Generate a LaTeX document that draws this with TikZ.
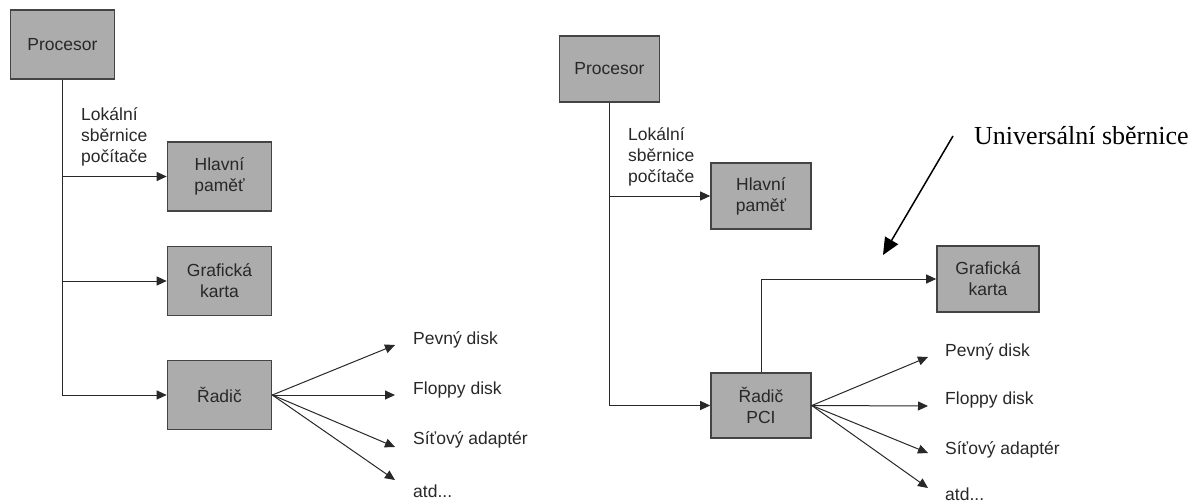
\documentclass[tikz,border=0pt]{standalone}
\usepackage{fontspec}
\setmainfont{Liberation Serif}
\setsansfont{Liberation Sans}
\usetikzlibrary{arrows.meta}
\definecolor{boxgray}{RGB}{172,172,172}
\definecolor{boxedge}{RGB}{68,68,68}
\definecolor{wiregray}{RGB}{40,40,40}

\begin{document}
\begin{tikzpicture}[x=1pt,y=-1pt]

%
% Styles
%
\tikzstyle{unit} = [rectangle,draw=boxedge,fill=boxgray,line width=1.6pt,
  minimum width=104pt,minimum height=69pt,align=center,text=wiregray,
  font=\sffamily\fontsize{17.5}{21}\selectfont]
\tikzstyle{unitsmall} = [unit,minimum width=100pt,minimum height=66pt]
\tikzstyle{lbl} = [inner sep=0pt,anchor=west,align=left,text=wiregray,
  font=\sffamily\fontsize{17.5}{21}\selectfont]
\tikzstyle{wire} = [draw=wiregray,line width=1pt,-{Triangle[length=10pt,width=9pt]}]
\tikzstyle{pointer} = [draw=black,line width=1.5pt,-{Triangle[length=17pt,width=15pt]}]

\useasboundingbox (0,0) rectangle (1203,503);

% left: everything on the local bus
\node[unit] (cpu) at (62.5,44.5) {Procesor};
\node[unit] (mem) at (219.5,176.5) {Hlavní\\paměť};
\node[unit] (gpu) at (219.5,281) {Grafická\\karta};
\node[unit] (ctl) at (219.5,395) {Řadič};
\node[lbl] (bus) at (81,137) {Lokální\\sběrnice\\počítače};

\draw[wire] (cpu) |- (ctl);
\draw[wire] (cpu.south |- mem) -- (mem);
\draw[wire] (cpu.south |- gpu) -- (gpu);

\coordinate (hdd) at (395,345);
\coordinate (fdd) at (395,395);
\coordinate (nic) at (395,447);
\coordinate (etc) at (395,480);
\node[lbl] (hddtxt) at (413,340) {Pevný disk};
\node[lbl] (fddtxt) at (413,390) {Floppy disk};
\node[lbl] (nictxt) at (413,440) {Síťový adaptér};
\node[lbl] (etctxt) at (413,491) {atd...};
\draw[wire] (ctl.east) -- (hdd);
\draw[wire] (ctl.east) -- (fdd);
\draw[wire] (ctl.east) -- (nic);
\draw[wire] (ctl.east) -- (etc);

% right: PCI bridge in between
\node[unitsmall] (cpuB) at (609.5,69) {Procesor};
\node[unitsmall] (memB) at (761,196) {Hlavní\\paměť};
\node[unitsmall,minimum width=102pt] (gpuB) at (988,279) {Grafická\\karta};
\node[unitsmall,minimum height=65pt] (ctlB) at (761,405.5) {Řadič\\PCI};
\node[lbl] (busB) at (628,157) {Lokální\\sběrnice\\počítače};

\draw[wire] (cpuB) |- (ctlB);
\draw[wire] (cpuB.south |- memB) -- (memB);
\draw[wire] (ctlB.north) |- (gpuB);

\coordinate (hddB) at (928,357);
\coordinate (fddB) at (928,406);
\coordinate (nicB) at (928,453);
\coordinate (etcB) at (928,488);
\node[lbl] (hddtxtB) at (945,352) {Pevný disk};
\node[lbl] (fddtxtB) at (945,400) {Floppy disk};
\node[lbl] (nictxtB) at (945,450) {Síťový adaptér};
\node[lbl] (etctxtB) at (945,494) {atd...};
\draw[wire] (ctlB.east) -- (hddB);
\draw[wire] (ctlB.east) -- (fddB);
\draw[wire] (ctlB.east) -- (nicB);
\draw[wire] (ctlB.east) -- (etcB);

% note with its pointer
\node[anchor=west,inner xsep=21pt,inner ysep=0pt,font=\fontsize{26}{30}\selectfont]
  (univ) at (953,136) {Universální sběrnice};
\coordinate (univtip) at (883,255);
\draw[pointer] (univ.west) -- (univtip);

\end{tikzpicture}
\end{document}
